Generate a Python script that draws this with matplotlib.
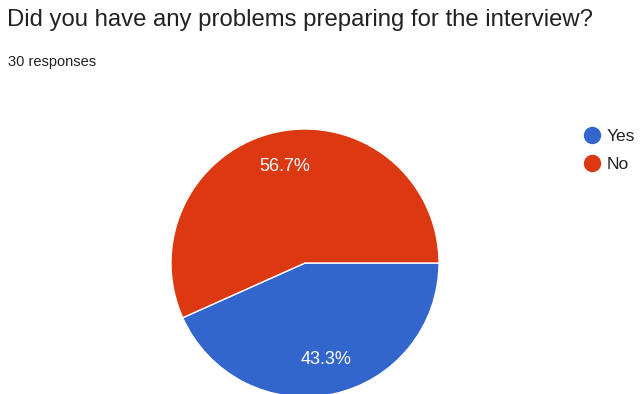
import matplotlib.pyplot as plt
from matplotlib.lines import Line2D

# Survey answers
answers = ['Yes', 'No']
percentages = [43.3, 56.7]
colours = ['#3366CC', '#DC3912']
question = 'Did you have any problems preparing for the interview?'
n_responses = 30

plt.rcParams['font.family'] = ['Liberation Sans', 'DejaVu Sans']

W, H = 643, 394
fig = plt.figure(figsize=(W / 100, H / 100), dpi=100)

fig.text(7 / W, 1 - 20 / H, question, fontsize=17.2, color='#212121',
         va='center', ha='left')
fig.text(8 / W, 1 - 62 / H, f'{n_responses} responses', fontsize=10.5,
         color='#212121', va='center', ha='left')

# Pie placed in pixel units: centre (305, 263), radius 134
cx, cy, r = 305, 263, 134
ax = fig.add_axes([(cx - r) / W, (H - cy - r) / H, 2 * r / W, 2 * r / H])
wedges, texts, autotexts = ax.pie(
    percentages, colors=colours, startangle=0, counterclock=False,
    autopct=lambda p: f'{p:.1f}%', pctdistance=0.74,
    wedgeprops={'edgecolor': 'white', 'linewidth': 1},
    textprops={'color': 'white', 'fontsize': 13})
ax.set_xlim(-1, 1)
ax.set_ylim(-1, 1)
ax.set_aspect('equal')
ax.axis('off')

handles = [Line2D([], [], marker='o', ls='none', markersize=11.5,
                  markerfacecolor=c, markeredgecolor=c) for c in colours]
fig.legend(handles, answers, loc='upper left',
           bbox_to_anchor=(575 / W, 1 - 120 / H), frameon=False,
           fontsize=12.5, handlelength=1.0, handletextpad=0.3,
           labelspacing=0.75, borderpad=0, labelcolor='#222222')

fig.savefig('out.png', dpi=100)
